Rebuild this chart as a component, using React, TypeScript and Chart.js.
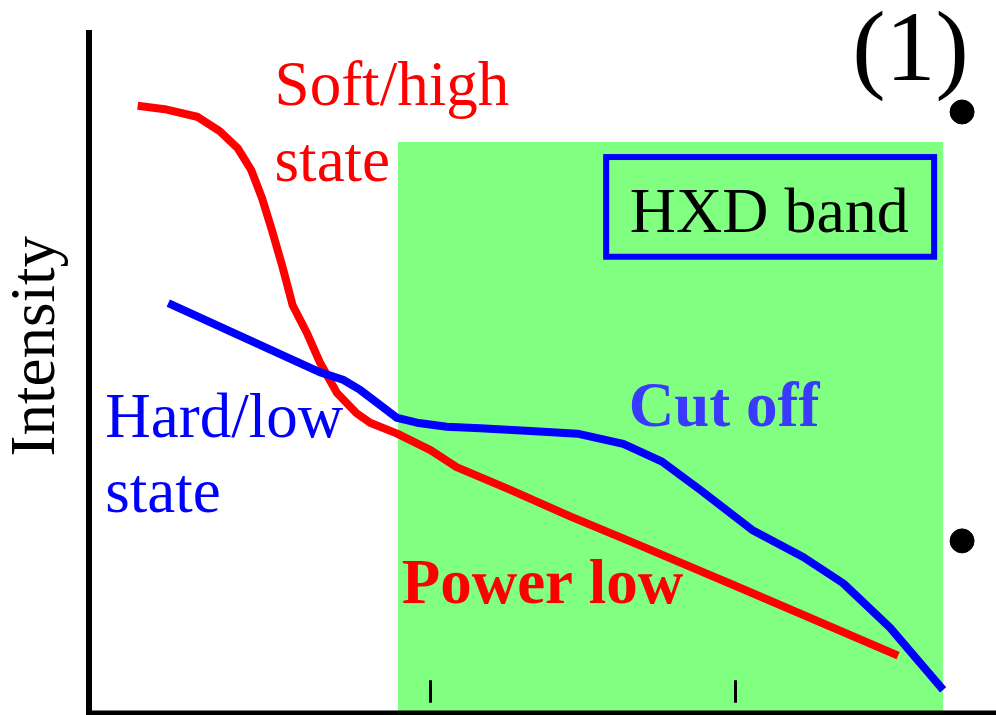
import React, { useEffect, useRef } from "react";
import { Chart, registerables } from "chart.js";

Chart.register(...registerables);

// Soft/high state spectrum (red)
const softX = [5.4, 8.4, 12.0, 14.5, 16.5, 18.0, 19.2, 20.3, 21.5, 22.6, 24.2, 25.6, 27.5, 29.7, 31.2, 34.2, 37.9, 40.8, 46.7, 53.4, 61.2, 72.3, 89.8];
const softY = [88.9, 88.4, 87.3, 85.2, 82.7, 79.5, 75.4, 70.7, 65.2, 59.7, 55.6, 51.4, 46.9, 43.9, 42.5, 40.9, 38.5, 36.0, 32.7, 28.8, 24.5, 18.3, 8.4];

// Hard/low state spectrum (blue)
const hardX = [8.8, 25.6, 28.2, 30.1, 32.3, 34.2, 36.4, 39.7, 43.4, 49.0, 54.2, 59.3, 63.6, 67.8, 73.6, 79.3, 83.7, 88.9, 94.8];
const hardY = [60.0, 49.9, 48.8, 47.3, 45.1, 43.2, 42.5, 41.9, 41.7, 41.3, 40.9, 39.4, 36.8, 32.7, 26.8, 22.8, 19.0, 12.5, 3.4];

// HXD band range
const bandX = [34.3, 94.8];
const bandTop = 83.6;

// tick marks on energy axis
const tickX = [37.8, 71.7];

// bullet dots on right
const dotX = [96.9, 96.9];
const dotY = [88.0, 25.2];

const labels = {
  soft1: "Soft/high",
  soft2: "state",
  hard1: "Hard/low",
  hard2: "state",
  cut: "Cut off",
  power: "Power low",
  hxd: "HXD band",
  panel: "(1)",
  yTitle: "Intensity",
};

const SERIF = '"Liberation Serif", "Times New Roman", serif';

const decorPlugin = {
  id: "decor",
  beforeDatasetsDraw(chart: any) {
    const { ctx, scales } = chart;
    const x = scales.x, y = scales.y;
    ctx.save();
    ctx.fillStyle = "rgb(128,255,128)";
    const x0 = x.getPixelForValue(bandX[0]);
    const x1 = x.getPixelForValue(bandX[1]);
    const yt = y.getPixelForValue(bandTop);
    const yb = y.getPixelForValue(0);
    ctx.fillRect(x0, yt, x1 - x0, yb - yt);
    // ticks
    ctx.strokeStyle = "#000";
    ctx.lineWidth = 3;
    tickX.forEach((t) => {
      const px = Math.round(x.getPixelForValue(t)) + 0.5;
      ctx.beginPath();
      ctx.moveTo(px, y.getPixelForValue(4.8));
      ctx.lineTo(px, y.getPixelForValue(1.5));
      ctx.stroke();
    });
    ctx.restore();
  },
  afterDatasetsDraw(chart: any) {
    const { ctx, scales } = chart;
    const x = scales.x, y = scales.y;
    const X = (v: number) => x.getPixelForValue(v);
    const Y = (v: number) => y.getPixelForValue(v);
    ctx.save();
    ctx.textBaseline = "alphabetic";
    ctx.textAlign = "left";

    ctx.font = `63px ${SERIF}`;
    ctx.fillStyle = "#ff0000";
    ctx.fillText(labels.soft1, X(20.6), Y(89.0));
    ctx.fillText(labels.soft2, X(20.6), Y(77.9));

    ctx.fillStyle = "#0000ff";
    ctx.fillText(labels.hard1, X(1.8), Y(40.4));
    ctx.fillText(labels.hard2, X(1.8), Y(29.4));

    ctx.font = `bold 63px ${SERIF}`;
    ctx.fillStyle = "rgb(58,58,255)";
    ctx.fillText(labels.cut, X(59.9), Y(42.0));
    ctx.fillStyle = "#ff0000";
    ctx.fillText(labels.power, X(34.7), Y(16.1));

    // HXD box
    ctx.strokeStyle = "#0000ff";
    ctx.lineWidth = 6;
    const bx0 = X(57.4), bx1 = X(93.8), by0 = Y(81.4), by1 = Y(66.8);
    ctx.strokeRect(bx0, by0, bx1 - bx0, by1 - by0);
    ctx.fillStyle = "#000";
    ctx.font = `64px ${SERIF}`;
    ctx.textAlign = "center";
    ctx.fillText(labels.hxd, X(75.5), Y(70.4));

    ctx.textAlign = "left";
    ctx.font = `100px ${SERIF}`;
    ctx.fillText(labels.panel, X(84.7), Y(92.7));

    // y title
    ctx.save();
    ctx.translate(X(-3.9), Y(53.7));
    ctx.rotate(-Math.PI / 2);
    ctx.textAlign = "center";
    ctx.font = `63px ${SERIF}`;
    ctx.fillText(labels.yTitle, 0, 0);
    ctx.restore();

    ctx.restore();
  },
  afterDraw(chart: any) {
    const { ctx, chartArea } = chart;
    ctx.save();
    ctx.strokeStyle = "#000";
    ctx.lineWidth = 6;
    ctx.beginPath();
    ctx.moveTo(chartArea.left, chartArea.top);
    ctx.lineTo(chartArea.left, chartArea.bottom + 2);
    ctx.stroke();
    ctx.lineWidth = 5;
    ctx.beginPath();
    ctx.moveTo(chartArea.left - 3, chartArea.bottom);
    ctx.lineTo(chart.width, chartArea.bottom);
    ctx.stroke();
    ctx.restore();
  },
};

export default function App() {
  const ref = useRef<HTMLCanvasElement | null>(null);
  useEffect(() => {
    if (!ref.current) return;
    const chart = new Chart(ref.current, {
      type: "line",
      data: {
        datasets: [
          {
            label: "Hard/low state",
            data: hardX.map((v, i) => ({ x: v, y: hardY[i] })),
            borderColor: "#0000ff",
            borderWidth: 8,
            borderJoinStyle: "round",
            pointRadius: 0,
            tension: 0,
            fill: false,
            clip: false as any,
          },
          {
            label: "Soft/high state",
            data: softX.map((v, i) => ({ x: v, y: softY[i] })),
            borderColor: "#ff0000",
            borderWidth: 8,
            borderJoinStyle: "round",
            pointRadius: 0,
            tension: 0,
            fill: false,
            clip: false as any,
          },
          {
            type: "scatter" as any,
            label: "dots",
            data: dotX.map((v, i) => ({ x: v, y: dotY[i] })),
            backgroundColor: "#000",
            borderColor: "#000",
            pointRadius: 12,
            pointHoverRadius: 12,
            showLine: false,
            clip: false as any,
          },
        ],
      },
      options: {
        responsive: false,
        animation: false,
        devicePixelRatio: 1,
        events: [],
        layout: { autoPadding: false, padding: { left: 89, right: 6, top: 30, bottom: 2 } },
        plugins: { legend: { display: false }, tooltip: { enabled: false } },
        scales: {
          x: { type: "linear", min: 0, max: 100, display: false },
          y: { type: "linear", min: 0, max: 100, display: false },
        },
      },
      plugins: [decorPlugin],
    });
    return () => chart.destroy();
  }, []);
  return (
    <div style={{ position: "absolute", left: 0, top: 0, width: 996, height: 715, background: "#fff" }}>
      <canvas ref={ref} width={996} height={715} style={{ display: "block" }} />
    </div>
  );
}
